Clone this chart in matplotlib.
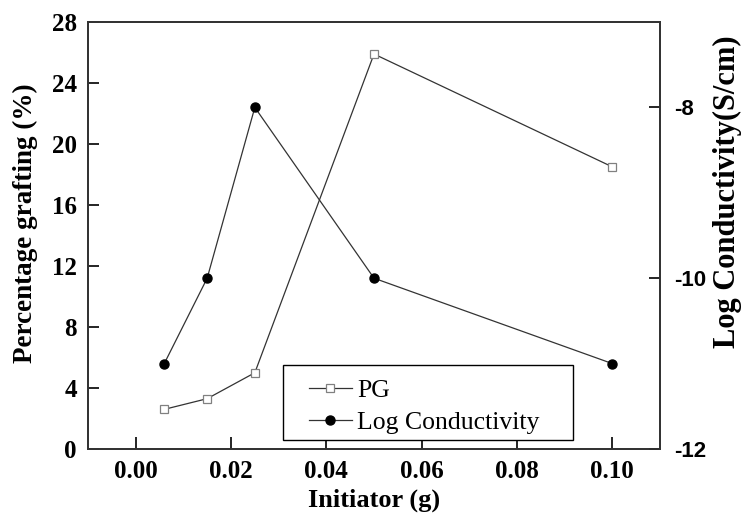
import matplotlib
matplotlib.use("Agg")
import matplotlib.pyplot as plt
from matplotlib.patches import Rectangle

# Data
initiator = [0.006, 0.015, 0.025, 0.05, 0.1]
pg = [2.6, 3.3, 5.0, 25.9, 18.5]
log_cond = [-11.0, -10.0, -8.0, -10.0, -11.0]

x_ticks = [0.00, 0.02, 0.04, 0.06, 0.08, 0.10]
x_ticklabels = ["0.00", "0.02", "0.04", "0.06", "0.08", "0.10"]
left_ticks = [0, 4, 8, 12, 16, 20, 24, 28]
right_ticks = [-12, -10, -8]

serif = "Liberation Serif"
sans = "Liberation Sans"

fig = plt.figure(figsize=(7.48, 5.16), dpi=100)
ax = fig.add_axes([88/748, 67/516, 572/748, 427/516])
ax2 = ax.twinx()

l1, = ax.plot(initiator, pg, color="#333333", lw=0.9, marker="s", ms=5.5,
              mfc="white", mec="#808080", mew=0.9, label="PG", zorder=3)
l2, = ax2.plot(initiator, log_cond, color="#333333", lw=0.9, marker="o", ms=6.5,
               mfc="black", mec="black", label="Log Conductivity", zorder=3)

ax.set_xlim(-0.01, 0.11)
ax.set_ylim(0, 28)
ax2.set_ylim(-12, -7)

ax.set_xticks(x_ticks)
ax.set_xticklabels(x_ticklabels, fontfamily=serif, fontweight="bold", fontsize=18)
ax.set_yticks(left_ticks)
ax.set_yticklabels([str(t) for t in left_ticks], fontfamily=serif, fontweight="bold", fontsize=18)
ax2.set_yticks(right_ticks)
ax2.set_yticklabels([str(t) for t in right_ticks], fontfamily=sans, fontweight="bold", fontsize=16)

ax.tick_params(axis="x", direction="in", length=9, width=1.2, top=False, pad=8)
ax.tick_params(axis="y", direction="in", length=8, width=1.2, right=False, pad=8)
ax2.tick_params(axis="y", direction="in", length=8, width=1.2, pad=10)

for a in (ax, ax2):
    for s in a.spines.values():
        s.set_linewidth(1.3)
        s.set_color("#333333")

ax.set_xlabel("Initiator (g)", fontfamily=serif, fontweight="bold", fontsize=19, labelpad=4)
ax.set_ylabel("Percentage grafting (%)", fontfamily=serif, fontweight="bold", fontsize=19.5)
ax.yaxis.set_label_coords(-0.0874, 0.529)
ax2.set_ylabel("Log Conductivity(S/cm)", fontfamily=serif, fontweight="bold", fontsize=22)
ax2.yaxis.set_label_coords(1.092, 0.603)

# legend frame
ax.add_patch(Rectangle((0.3409, 0.0211), 0.8479 - 0.3409, 0.1967 - 0.0211,
                       transform=ax.transAxes, fill=True, facecolor="white",
                       edgecolor="black", lw=1.0, zorder=4))
leg = ax.legend([l1, l2], ["PG", "Log Conductivity"], loc="upper left",
                bbox_to_anchor=(0.3864, 0.165),
                prop={"family": serif, "size": 18.5}, frameon=False,
                handlelength=1.67, handletextpad=0.2,
                labelspacing=0.38, borderpad=0, borderaxespad=0)
leg.set_zorder(5)

fig.savefig("out.png", dpi=100)
